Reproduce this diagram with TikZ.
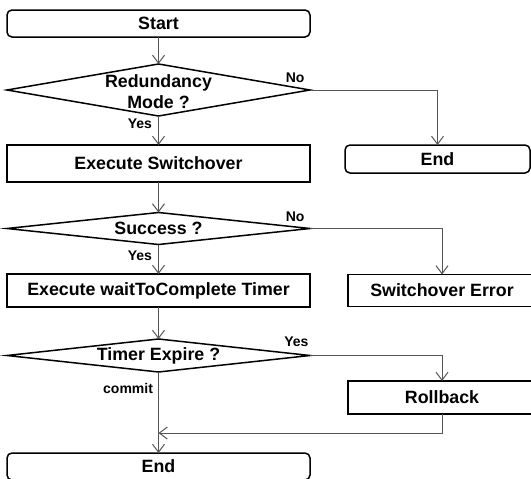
\documentclass[tikz,border=0pt]{standalone}
\usepackage{fontspec}
\setmainfont{Liberation Sans}
\usepackage{xcolor}
\definecolor{flowline}{HTML}{555555}
\usepackage{tikz}
\usetikzlibrary{arrows.meta, shapes.geometric, positioning, calc}

\begin{document}
\begin{tikzpicture}[>={Straight Barb[length=8pt,width=12pt]},
  box/.style={draw, line width=1.5pt, outer sep=0pt, minimum width=303pt,
              font=\bfseries\fontsize{17.8}{21}\selectfont},
  rbox/.style={box, rounded corners=5pt},
  decision/.style={draw, diamond, line width=1.5pt, outer sep=0pt, inner sep=0pt,
                   minimum width=303pt},
  dectext/.style={font=\bfseries\fontsize{17.8}{21}\selectfont, align=center},
  flow/.style={->, flowline, line width=1pt},
  lbl/.style={font=\bfseries\fontsize{14}{16}\selectfont, inner sep=2pt, text=black}]

  \useasboundingbox (0,0) rectangle (531pt,-479pt);

  % main column
  \node[rbox, minimum height=27pt] (start) at (158.5pt,-23.5pt) {Start};
  \node[decision, minimum height=52pt, below=27pt of start,
        label={[dectext, yshift=-2pt]center:Redundancy\\Mode ?}] (mode) {};
  \node[box, minimum height=37pt, below=29pt of mode] (switch) {Execute Switchover};
  \node[decision, minimum height=32pt, below=30.5pt of switch,
        label={[dectext]center:Success ?}] (success) {};
  \node[box, minimum height=33pt, below=29.5pt of success] (wait)
        {Execute waitToComplete Timer};
  \node[decision, minimum height=33pt, below=32pt of wait,
        label={[dectext]center:Timer Expire ?}] (expire) {};
  \node[rbox, minimum height=27pt, below=81pt of expire] (done) {End};

  % right column
  \node[rbox, minimum width=185pt, minimum height=28pt,
        right=35pt of switch, yshift=4.5pt] (stop) {End};
  \node[box, minimum width=188pt, minimum height=32pt,
        right=38pt of wait] (error) {Switchover Error};
  \node[box, minimum width=188pt, minimum height=33pt,
        below=74.5pt of error] (rollback) {Rollback};
  \coordinate (merge) at ($(done.north)+(0,20pt)$);

  % connectors
  \draw[flow] (start.south) -- (mode.north);
  \draw[flow] (mode.south) -- node[lbl, pos=0, anchor=north east, xshift=-4pt]
    {Yes} (switch.north);
  \draw[flow] (mode.east) -| node[lbl, pos=0, anchor=south east, xshift=-3pt, yshift=5pt]
    {No} (stop.north);

  \draw[flow] (switch.south) -- (success.north);
  \draw[flow] (success.south) -- node[lbl, pos=0, anchor=north east, xshift=-4pt, yshift=-3.5pt]
    {Yes} (wait.north);
  \draw[flow] (success.east) -| node[lbl, pos=0, anchor=south east, xshift=-3pt, yshift=4.5pt]
    {No} (error.north);

  \draw[flow] (wait.south) -- (expire.north);
  \draw[flow] (expire.east) -| node[lbl, pos=0, anchor=south east, xshift=1pt, yshift=6.5pt]
    {Yes} (rollback.north);
  \draw[flow] (expire.south) -- node[lbl, pos=0.2, anchor=east, xshift=-3pt]
    {commit} (done.north);
  \draw[flow] (rollback.south) |- (merge);

\end{tikzpicture}
\end{document}
